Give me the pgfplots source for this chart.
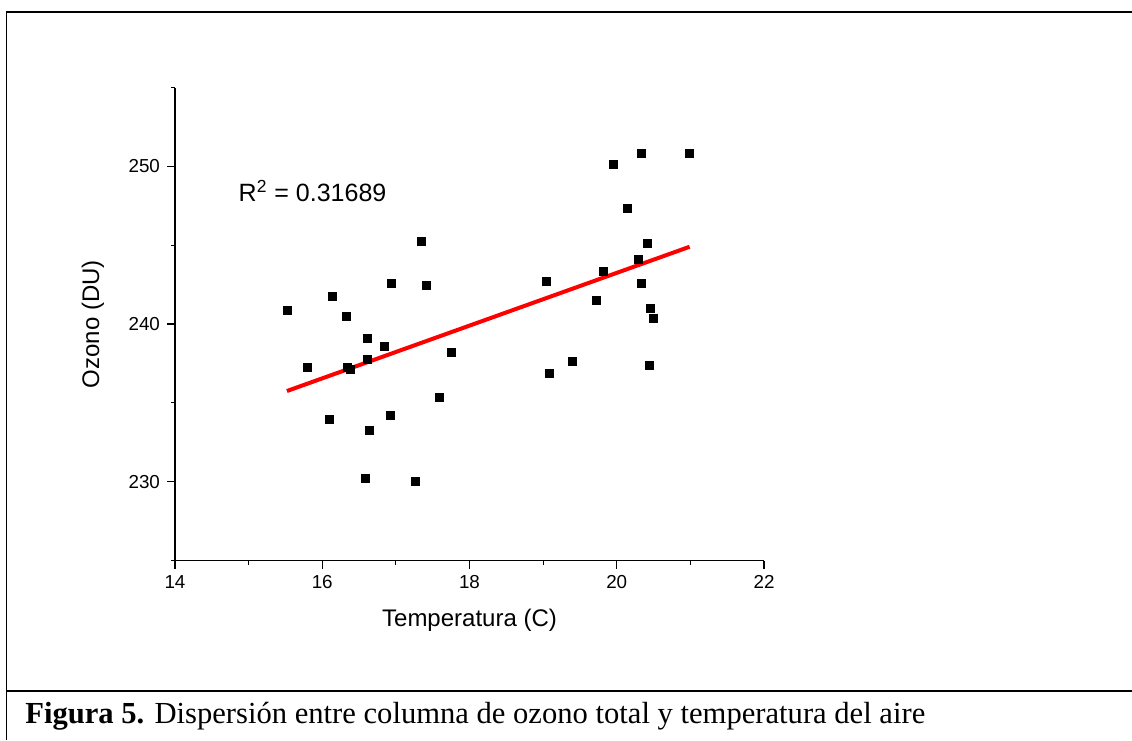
\documentclass[border=0pt]{standalone}
\usepackage{pgfplots}
\pgfplotsset{compat=1.18}
\usepackage{fontspec}
\setmainfont{Liberation Serif}
\newfontfamily\arial{Liberation Sans}
\begin{document}
\begin{tikzpicture}
% 1 px = 0.5pt ; rel x = (px-175)/589 ; rel y = (560.5-py)/473
\begin{axis}[
  scale only axis, width=294.5pt, height=236.5pt,
  xmin=14, xmax=22, ymin=225, ymax=255,
  axis lines=left, axis line style={-, line width=0.6pt},
  xtick={14,16,18,20,22}, ytick={230,240,250},
  minor xtick={15,17,19,21}, minor ytick={225,235,245,255},
  tick align=outside,
  major tick length=4pt, minor tick length=2pt,
  every tick/.style={black, line width=0.6pt},
  /pgf/number format/assume math mode=true,
  ticklabel style={font=\arial\fontsize{9.4}{11}\selectfont},
  xlabel={Temperatura (C)}, ylabel={Ozono (DU)},
  label style={font=\arial\fontsize{12}{14}\selectfont},
  xlabel style={at={(axis description cs:0.5,-0.1258)}, anchor=center},
  ylabel style={at={(axis description cs:-0.1392,0.5)}, anchor=center},
  clip=false,
]
\path[use as bounding box] (rel axis cs:-0.29711,1.18499) rectangle (rel axis cs:1.62479,-0.37949);
\draw[line width=0.9pt] (rel axis cs:-0.2861,-0.37949) -- (rel axis cs:-0.2861,1.1596) -- (rel axis cs:1.62479,1.1596);
\draw[line width=0.9pt] (rel axis cs:-0.2861,-0.2759) -- (rel axis cs:1.62479,-0.2759);
\node[anchor=base west, inner sep=0pt, font=\fontsize{15.3}{18}\selectfont] at (rel axis cs:-0.25467,-0.3443)
  {\textbf{Figura 5.} Dispersión entre columna de ozono total y temperatura del aire};
\addplot[only marks, mark=square*, mark size=2pt, black] coordinates {
(15.52,240.84) (15.80,237.23) (16.10,233.98) (16.14,241.73) (16.33,240.46)
(16.34,237.23) (16.38,237.10) (16.59,230.23) (16.61,239.11) (16.62,237.74)
(16.64,233.23) (16.85,238.60) (16.92,234.23) (16.94,242.60) (17.27,230.00)
(17.35,245.22) (17.41,242.47) (17.59,235.35) (17.76,238.22) (19.04,242.73)
(19.08,236.85) (19.40,237.61) (19.73,241.48) (19.82,243.36) (19.95,250.10)
(20.14,247.34) (20.29,244.10) (20.33,250.85) (20.34,242.60) (20.42,245.09)
(20.44,237.36) (20.46,240.97) (20.50,240.34) (20.99,250.85)
};
\addplot[red, line width=2pt] coordinates {(15.52,235.75) (20.99,244.90)};
\node[anchor=base west, inner sep=0pt, font=\arial\fontsize{12.5}{14}\selectfont]
  at (axis cs:14.86,247.76) {R\textsuperscript{2} = 0.31689};
\end{axis}
\end{tikzpicture}
\end{document}
